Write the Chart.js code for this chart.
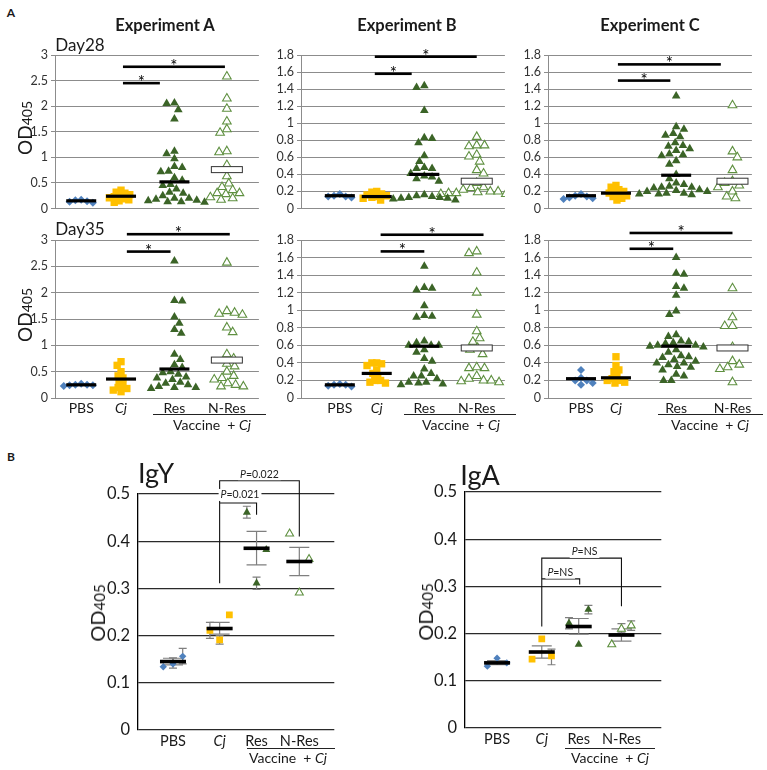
<!DOCTYPE html>
<html><head><meta charset="utf-8">
<script src="https://cdn.jsdelivr.net/npm/chart.js@4.4.1/dist/chart.umd.min.js"></script>
<style>
body{margin:0;background:#fff;font-family:Lato,"Open Sans",sans-serif;}
#wrap{position:relative;width:767px;height:770px;overflow:hidden;background:#fff;}
canvas{position:absolute;}
.t{position:absolute;white-space:nowrap;color:#1a1a1a;line-height:1;transform:translate(-50%,-50%);}
.hl{position:absolute;height:0;border-top:1.4px solid #222;}
</style></head><body><div id="wrap">
<canvas id="a28"></canvas><canvas id="b28"></canvas><canvas id="c28"></canvas>
<canvas id="a35"></canvas><canvas id="b35"></canvas><canvas id="c35"></canvas>
<canvas id="igy"></canvas><canvas id="iga"></canvas>

<div class="t" style="left:11px;top:13px;font-size:12px;font-weight:bold">A</div>
<div class="t" style="left:11px;top:457px;font-size:12px;font-weight:bold">B</div>
<div class="t" style="left:165px;top:25px;font-size:16.5px;font-weight:bold">Experiment A</div>
<div class="t" style="left:407px;top:25px;font-size:16.5px;font-weight:bold">Experiment B</div>
<div class="t" style="left:650px;top:25px;font-size:16.5px;font-weight:bold">Experiment C</div>
<div class="t" style="left:80px;top:44px;font-size:17px">Day28</div>
<div class="t" style="left:80px;top:228px;font-size:17px">Day35</div>
<div class="t" style="left:24px;top:128px;transform:translate(-50%,-50%) rotate(-90deg)"><span style="font-size:19px">OD</span><span style="font-size:14px">405</span></div>
<div class="t" style="left:24px;top:315px;transform:translate(-50%,-50%) rotate(-90deg)"><span style="font-size:19px">OD</span><span style="font-size:14px">405</span></div>

<div class="hl" style="left:153px;width:113px;top:414px"></div>
<div class="t" style="left:212px;top:425px;font-size:14px">Vaccine &nbsp;+ <i>Cj</i></div>
<div class="hl" style="left:404px;width:112px;top:414px"></div>
<div class="t" style="left:461px;top:425px;font-size:14px">Vaccine &nbsp;+ <i>Cj</i></div>
<div class="hl" style="left:658px;width:105px;top:414px"></div>
<div class="t" style="left:710px;top:425px;font-size:14px">Vaccine &nbsp;+ <i>Cj</i></div>

<div class="t" style="left:156px;top:472px;font-size:27px">IgY</div>
<div class="t" style="left:480px;top:474px;font-size:27px">IgA</div>
<div class="t" style="left:97px;top:613px;transform:translate(-50%,-50%) rotate(-90deg)"><span style="font-size:20px">OD</span><span style="font-size:15px">405</span></div>
<div class="t" style="left:425px;top:612px;transform:translate(-50%,-50%) rotate(-90deg)"><span style="font-size:20px">OD</span><span style="font-size:15px">405</span></div>
<div class="hl" style="left:247px;width:88px;top:748px"></div>
<div class="t" style="left:288px;top:758px;font-size:14px">Vaccine &nbsp;+ <i>Cj</i></div>
<div class="hl" style="left:565px;width:90px;top:748px"></div>
<div class="t" style="left:610px;top:758px;font-size:14px">Vaccine &nbsp;+ <i>Cj</i></div>
</div>
<script>
// ================= DATA =================
const categories = ['PBS', 'Cj', 'Res', 'N-Res'];

// Panel A, Day 28 (OD405 per bird)
const A28_PBS  = [0.11, 0.13, 0.17, 0.14, 0.16];
const A28_Cj   = [0.36, 0.32, 0.30, 0.27, 0.25, 0.23, 0.21, 0.19, 0.17, 0.15, 0.12];
const A28_Res  = [2.06, 2.05, 1.93, 1.75, 1.12, 1.07, 0.97, 0.82, 0.80, 0.73, 0.72, 0.60, 0.55, 0.47, 0.45, 0.38, 0.32, 0.30, 0.25, 0.20, 0.20, 0.18, 0.16, 0.15, 0.13, 0.13, 0.12];
const A28_NRes = [2.58, 2.15, 1.95, 1.70, 1.55, 1.48, 1.12, 1.10, 0.85, 0.63, 0.49, 0.42, 0.36, 0.30, 0.28, 0.22, 0.20, 0.17, 0.30];
const A28_mean = [0.15, 0.24, 0.52, 0.76];

const B28_PBS  = [0.13, 0.17, 0.14, 0.15, 0.14];
const B28_Cj   = [0.20, 0.19, 0.17, 0.15, 0.14, 0.13, 0.12, 0.10, 0.16];
const B28_Res  = [1.44, 1.42, 1.15, 0.83, 0.82, 0.77, 0.62, 0.55, 0.48, 0.47, 0.47, 0.41, 0.38, 0.37, 0.35, 0.32, 0.16, 0.15, 0.14, 0.13, 0.13, 0.12, 0.12, 0.11, 0.10];
const B28_NRes = [0.84, 0.74, 0.74, 0.73, 0.63, 0.61, 0.55, 0.45, 0.41, 0.30, 0.25, 0.24, 0.22, 0.20, 0.20, 0.19, 0.18, 0.18, 0.17, 0.17];
const B28_mean = [0.15, 0.14, 0.40, 0.32];

const C28_PBS  = [0.13, 0.14, 0.12, 0.15, 0.11, 0.17];
const C28_Cj   = [0.27, 0.25, 0.22, 0.20, 0.18, 0.16, 0.14, 0.12, 0.10, 0.20, 0.15];
const C28_Res  = [1.32, 0.96, 0.93, 0.88, 0.86, 0.84, 0.77, 0.74, 0.73, 0.70, 0.68, 0.64, 0.63, 0.62, 0.56, 0.52, 0.40, 0.35, 0.30, 0.28, 0.26, 0.25, 0.25, 0.24, 0.22, 0.21, 0.20, 0.20, 0.18, 0.18, 0.17, 0.17, 0.16];
const C28_NRes = [1.21, 0.67, 0.60, 0.45, 0.32, 0.30, 0.27, 0.25, 0.20, 0.14, 0.12];
const C28_mean = [0.15, 0.18, 0.39, 0.32];

// Panel A, Day 35
const A35_PBS  = [0.24, 0.23, 0.25, 0.27, 0.24, 0.25];
const A35_Cj   = [0.69, 0.62, 0.50, 0.42, 0.38, 0.32, 0.25, 0.20, 0.15, 0.12, 0.18];
const A35_Res  = [2.60, 1.85, 1.84, 1.54, 1.42, 1.30, 1.23, 0.83, 0.73, 0.63, 0.58, 0.50, 0.48, 0.45, 0.40, 0.38, 0.35, 0.30, 0.28, 0.25, 0.22, 0.20, 0.18, 0.20];
const A35_NRes = [2.57, 1.65, 1.60, 1.62, 1.58, 1.34, 1.25, 0.83, 0.75, 0.65, 0.60, 0.50, 0.42, 0.38, 0.35, 0.28, 0.22, 0.22, 0.25];
const A35_mean = [0.25, 0.36, 0.55, 0.72];

const B35_PBS  = [0.16, 0.15, 0.15, 0.13, 0.14];
const B35_Cj   = [0.40, 0.39, 0.40, 0.37, 0.32, 0.28, 0.25, 0.20, 0.18, 0.20, 0.17];
const B35_Res  = [1.50, 1.25, 1.26, 1.23, 1.05, 0.93, 0.92, 0.94, 0.65, 0.63, 0.60, 0.60, 0.60, 0.55, 0.52, 0.45, 0.42, 0.33, 0.28, 0.25, 0.25, 0.22, 0.18, 0.18, 0.16, 0.15, 0.17];
const B35_NRes = [1.67, 1.65, 1.43, 1.20, 0.95, 0.76, 0.68, 0.64, 0.57, 0.55, 0.50, 0.34, 0.34, 0.35, 0.25, 0.22, 0.20, 0.20, 0.19, 0.18];
const B35_mean = [0.15, 0.28, 0.59, 0.57];

const C35_PBS  = [0.32, 0.23, 0.20, 0.20, 0.17, 0.15];
const C35_Cj   = [0.47, 0.37, 0.32, 0.30, 0.25, 0.22, 0.20, 0.17, 0.18, 0.20];
const C35_Res  = [1.60, 1.42, 1.41, 1.27, 1.25, 1.17, 0.99, 0.95, 0.72, 0.70, 0.65, 0.64, 0.63, 0.62, 0.60, 0.60, 0.59, 0.58, 0.55, 0.52, 0.48, 0.47, 0.46, 0.44, 0.42, 0.40, 0.40, 0.38, 0.36, 0.35, 0.32, 0.27, 0.25, 0.20, 0.20];
const C35_NRes = [1.25, 0.92, 0.82, 0.82, 0.58, 0.42, 0.38, 0.35, 0.33, 0.18];
const C35_mean = [0.22, 0.23, 0.59, 0.57];

// y-axis tick labels
const A_ticks_expA = [0, 0.5, 1, 1.5, 2, 2.5, 3];
const A_ticks_expBC = [0, 0.2, 0.4, 0.6, 0.8, 1, 1.2, 1.4, 1.6, 1.8];
const B_ticks = [0, 0.1, 0.2, 0.3, 0.4, 0.5];

// Panel B (three replicates per group, left/centre/right)
const IgY_vals = [[0.134, 0.140, 0.156], [0.211, 0.191, 0.244], [0.461, 0.311, 0.382], [0.416, 0.291, 0.362]];
const IgY_ptErr = [[null, [0.131, 0.153], [0.140, 0.173]], [[0.194, 0.228], [0.182, 0.200], null], [[0.449, 0.474], [0.298, 0.324], null], [null, null, null]];
const IgY_mean = [0.145, 0.215, 0.385, 0.357];
const IgY_se = [[0.138, 0.152], [0.203, 0.228], [0.350, 0.421], [0.327, 0.387]];

const IgA_vals = [[0.131, 0.148, 0.138], [0.146, 0.189, 0.153], [0.222, 0.177, 0.251], [0.177, 0.210, 0.217]];
const IgA_ptErr = [[null, null, null], [null, null, [0.134, 0.167]], [[0.210, 0.234], null, [0.242, 0.260]], [null, [0.203, 0.221], [0.207, 0.227]]];
const IgA_mean = [0.138, 0.161, 0.215, 0.197];
const IgA_se = [[0.134, 0.143], [0.148, 0.174], [0.199, 0.232], [0.184, 0.210]];

// ================= STYLE / LAYOUT =================
Chart.defaults.font.family = 'Lato, "Open Sans", sans-serif';
Chart.defaults.color = '#222';
const C_BLUE = '#4f81bd', C_YEL = '#ffc000', C_DG = '#3b6427', C_LG = '#5f9040';
const MARK = [
  { ps: 'rectRot', r: 4, bg: C_BLUE, bc: C_BLUE, bw: 0, d: 6 },
  { ps: 'rect', r: 5.2, bg: C_YEL, bc: C_YEL, bw: 0, d: 5 },
  { ps: 'triangle', r: 5, bg: C_DG, bc: C_DG, bw: 0, d: 7.5 },
  { ps: 'triangle', r: 5, bg: '#fff', bc: C_LG, bw: 1.1, d: 7.5 }
];
const fmt = v => String(+(+v).toFixed(2));
const PLOT_W = 210;
const COLS = [
  { id: 'a', axisX: 55, ticks: A_ticks_expA, cats: [27, 68, 123, 177], sig28: [[70, 108, 2.45], [70, 175, 2.77]], sig35: [[74, 119, 2.78], [74, 180, 3.11]] },
  { id: 'b', axisX: 301, ticks: A_ticks_expBC, cats: [40, 78, 127, 181], sig28: [[76, 114, 1.58], [76, 181, 1.78]], sig35: [[82, 127, 1.67], [82, 188, 1.86]] },
  { id: 'c', axisX: 548, ticks: A_ticks_expBC, cats: [34, 70, 132, 190], sig28: [[72, 126, 1.50], [72, 178, 1.69]], sig35: [[84, 129, 1.70], [84, 190, 1.88]] }
];
const ROWS = [
  { day: '28', top: 28, height: 191, padBottom: 8, plotH: 156, showX: false },
  { day: '35', top: 213, height: 207, padBottom: 0, plotH: 158, showX: true }
];
const GROUPS = {
  a28: [A28_PBS, A28_Cj, A28_Res, A28_NRes], b28: [B28_PBS, B28_Cj, B28_Res, B28_NRes], c28: [C28_PBS, C28_Cj, C28_Res, C28_NRes],
  a35: [A35_PBS, A35_Cj, A35_Res, A35_NRes], b35: [B35_PBS, B35_Cj, B35_Res, B35_NRes], c35: [C35_PBS, C35_Cj, C35_Res, C35_NRes]
};
const MEANS = { a28: A28_mean, b28: B28_mean, c28: C28_mean, a35: A35_mean, b35: B35_mean, c35: C35_mean };

// simple beeswarm: horizontal offsets (px) so markers do not overlap
function swarm(vals, ppu, d) {
  const order = vals.map((v, i) => i).sort((a, b) => vals[b] - vals[a]);
  const placed = [], off = new Array(vals.length);
  order.forEach((i, n) => {
    const py = vals[i] * ppu;
    let found = null;
    for (let k = 0; k < 100 && found === null; k++) {
      const c = k === 0 ? [0] : (n % 2 ? [-k, k] : [k, -k]);
      for (const s of c) {
        if (placed.every(p => (p.x - s) ** 2 + (p.y - py) ** 2 >= d * d)) { found = s; break; }
      }
    }
    off[i] = found; placed.push({ x: found, y: py });
  });
  return off;
}

function makeA(col, row) {
  const key = col.id + row.day;
  const cv = document.getElementById(key);
  cv.width = 40 + PLOT_W; cv.height = row.height;
  cv.style.left = (col.axisX - 40) + 'px'; cv.style.top = row.top + 'px';
  const ymax = col.ticks[col.ticks.length - 1];
  const ppu = row.plotH / ymax;
  const datasets = GROUPS[key].map((vals, g) => {
    const m = MARK[g];
    const offs = swarm(vals, ppu, m.d);
    return {
      data: vals.map((v, i) => ({ x: col.cats[g] + offs[i], y: v })),
      showLine: false, pointStyle: m.ps, pointRadius: m.r, pointHoverRadius: m.r,
      pointBackgroundColor: m.bg, pointBorderColor: m.bc, pointBorderWidth: m.bw
    };
  });
  const means = MEANS[key];
  const sig = row.day === '28' ? col.sig28 : col.sig35;
  const ov = {
    id: 'ov' + key,
    afterDatasetsDraw(chart) {
      const { ctx, scales: { x, y } } = chart;
      ctx.save();
      means.forEach((m, g) => {
        const cx = x.getPixelForValue(col.cats[g]), py = y.getPixelForValue(m);
        if (g === 3) {
          ctx.fillStyle = '#fff'; ctx.fillRect(cx - 15.5, py - 3, 31, 6);
          ctx.strokeStyle = '#333'; ctx.lineWidth = 1; ctx.strokeRect(cx - 15.5, py - 3, 31, 6);
        } else {
          ctx.fillStyle = '#000'; ctx.fillRect(cx - 15, py - 1.6, 30, 3.2);
        }
      });
      sig.forEach(([x1, x2, v]) => {
        const p1 = x.getPixelForValue(x1), p2 = x.getPixelForValue(x2), py = y.getPixelForValue(v);
        ctx.fillStyle = '#000'; ctx.fillRect(p1, py - 1.3, p2 - p1, 2.6);
        ctx.font = '17px Lato'; ctx.textAlign = 'center'; ctx.textBaseline = 'alphabetic';
        ctx.fillText('*', (p1 + p2) / 2, py + 5);
      });
      ctx.restore();
    }
  };
  new Chart(cv, {
    type: 'scatter',
    data: { datasets },
    plugins: [ov],
    options: {
      responsive: false, animation: false, devicePixelRatio: 1, events: [],
      layout: { padding: { top: 27, bottom: row.padBottom, left: 0, right: 0 } },
      plugins: { legend: { display: false }, tooltip: { enabled: false } },
      scales: {
        x: {
          type: 'linear', min: 0, max: PLOT_W, display: row.showX,
          grid: { display: false, drawTicks: false }, border: { display: false },
          afterBuildTicks: s => { s.ticks = col.cats.map(v => ({ value: v })); },
          afterFit: s => { s.height = row.showX ? 22 : 0; },
          ticks: {
            autoSkip: false, maxRotation: 0, padding: 2, color: '#1a1a1a',
            callback: (v, i) => categories[i],
            font: c => ({ size: 14, style: c.index === 1 ? 'italic' : 'normal' })
          }
        },
        y: {
          min: 0, max: ymax,
          afterBuildTicks: s => { s.ticks = col.ticks.map(v => ({ value: v })); },
          afterFit: s => { s.width = 40; },
          grid: { color: '#8c8c8c', lineWidth: 1, tickLength: 4, drawTicks: true },
          border: { display: true, color: '#8c8c8c', width: 1 },
          ticks: { autoSkip: false, padding: 3, color: '#333', font: { size: 12.5 }, callback: v => fmt(v) }
        }
      }
    }
  });
}
COLS.forEach(c => ROWS.forEach(r => makeA(c, r)));

// ---- Panel B ----
function makeB(id, o) {
  const cv = document.getElementById(id);
  cv.width = 50 + o.plotW; cv.height = 285;
  cv.style.left = (o.axisX - 50) + 'px'; cv.style.top = o.top + 'px';
  const datasets = o.vals.map((vals, g) => {
    const m = MARK[g];
    const r = m.r * 0.92;
    return {
      data: vals.map((v, i) => ({ x: o.cats[g] + (i - 1) * 10, y: v })),
      showLine: false, pointStyle: m.ps, pointRadius: r, pointHoverRadius: r,
      pointBackgroundColor: m.bg, pointBorderColor: m.bc, pointBorderWidth: m.bw
    };
  });
  function bar(ctx, y, px, lo, hi, cap) {
    const a = y.getPixelForValue(lo), b = y.getPixelForValue(hi);
    ctx.beginPath();
    ctx.moveTo(px, a); ctx.lineTo(px, b);
    ctx.moveTo(px - cap / 2, a); ctx.lineTo(px + cap / 2, a);
    ctx.moveTo(px - cap / 2, b); ctx.lineTo(px + cap / 2, b);
    ctx.stroke();
  }
  const ov = {
    id: 'ov' + id,
    beforeDatasetsDraw(chart) {
      const { ctx, scales: { x, y } } = chart;
      ctx.save(); ctx.strokeStyle = '#7f7f7f'; ctx.lineWidth = 1.2;
      o.ptErr.forEach((grp, g) => grp.forEach((e, i) => {
        if (e) bar(ctx, y, x.getPixelForValue(o.cats[g] + (i - 1) * 10), e[0], e[1], 8);
      }));
      o.se.forEach((e, g) => bar(ctx, y, x.getPixelForValue(o.cats[g]), e[0], e[1], 20));
      ctx.restore();
    },
    afterDatasetsDraw(chart) {
      const { ctx, scales: { x, y } } = chart;
      ctx.save();
      ctx.fillStyle = '#000';
      o.mean.forEach((m, g) => {
        const cx = x.getPixelForValue(o.cats[g]), py = y.getPixelForValue(m);
        ctx.fillRect(cx - 13, py - 1.8, 26, 3.6);
      });
      ctx.strokeStyle = '#111'; ctx.lineWidth = 1.1;
      o.brackets.forEach(bk => {
        const p1 = x.getPixelForValue(bk.x1), p2 = x.getPixelForValue(bk.x2);
        ctx.beginPath();
        ctx.moveTo(p1, y.getPixelForValue(bk.yl)); ctx.lineTo(p1, y.getPixelForValue(bk.top));
        ctx.lineTo(p2, y.getPixelForValue(bk.top)); ctx.lineTo(p2, y.getPixelForValue(bk.yr));
        ctx.stroke();
      });
      o.brackets.forEach(bk => {
        const tx = x.getPixelForValue(bk.tx), ty = y.getPixelForValue(bk.ty);
        ctx.font = 'italic 10.5px Lato'; const wP = ctx.measureText('P').width;
        ctx.font = '10.5px Lato'; const wR = ctx.measureText('=' + bk.label).width;
        const w = wP + wR, sx = tx - w / 2;
        ctx.fillStyle = '#fff'; ctx.fillRect(sx - 2, ty - 6, w + 4, 12);
        ctx.fillStyle = '#222'; ctx.textBaseline = 'middle'; ctx.textAlign = 'left';
        ctx.font = 'italic 10.5px Lato'; ctx.fillText('P', sx, ty);
        ctx.font = '10.5px Lato'; ctx.fillText('=' + bk.label, sx + wP, ty);
      });
      ctx.restore();
    }
  };
  new Chart(cv, {
    type: 'scatter',
    data: { datasets },
    plugins: [ov],
    options: {
      responsive: false, animation: false, devicePixelRatio: 1, events: [],
      layout: { padding: { top: 29, bottom: 0, left: 0, right: 0 } },
      plugins: { legend: { display: false }, tooltip: { enabled: false } },
      scales: {
        x: {
          type: 'linear', min: 0, max: o.plotW,
          grid: { display: false, drawTicks: false }, border: { display: false },
          afterBuildTicks: s => { s.ticks = o.cats.map(v => ({ value: v })); },
          afterFit: s => { s.height = 20; },
          ticks: {
            autoSkip: false, maxRotation: 0, padding: 3, color: '#1a1a1a',
            callback: (v, i) => categories[i],
            font: c => ({ size: 14.5, style: c.index === 1 ? 'italic' : 'normal' })
          }
        },
        y: {
          min: 0, max: 0.5,
          afterBuildTicks: s => { s.ticks = B_ticks.map(v => ({ value: v })); },
          afterFit: s => { s.width = 50; },
          grid: { color: '#2a2a2a', lineWidth: 1.3, drawTicks: false },
          border: { display: true, color: '#000', width: 1.3 },
          ticks: { autoSkip: false, padding: 8, color: '#1a1a1a', font: { size: 16.5 }, callback: v => fmt(v) }
        }
      }
    }
  });
}
makeB('igy', {
  axisX: 138, top: 465, plotW: 202, cats: [36, 84, 122, 166],
  vals: IgY_vals, ptErr: IgY_ptErr, mean: IgY_mean, se: IgY_se,
  brackets: [
    { x1: 84, x2: 122, top: 0.481, yl: 0.311, yr: 0.456, label: '0.021', tx: 105, ty: 0.498 },
    { x1: 84, x2: 166, top: 0.528, yl: 0.481, yr: 0.410, label: '0.022', tx: 125, ty: 0.542 }
  ]
});
makeB('iga', {
  axisX: 465, top: 463, plotW: 202, cats: [33, 79, 117, 161],
  vals: IgA_vals, ptErr: IgA_ptErr, mean: IgA_mean, se: IgA_se,
  brackets: [
    { x1: 79, x2: 118, top: 0.316, yl: 0.215, yr: 0.304, label: 'NS', tx: 98, ty: 0.329 },
    { x1: 79, x2: 161, top: 0.360, yl: 0.316, yr: 0.258, label: 'NS', tx: 123, ty: 0.373 }
  ]
});
</script>
</body></html>
